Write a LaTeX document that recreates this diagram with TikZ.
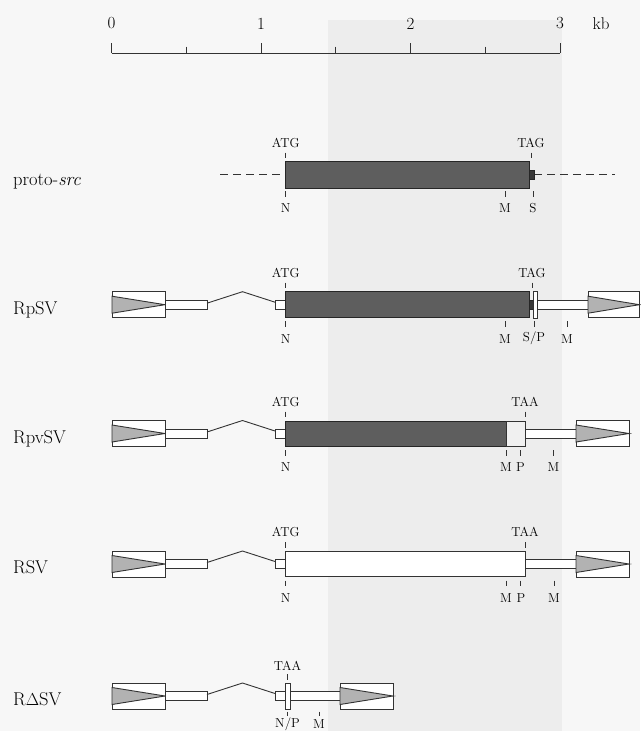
\documentclass[tikz,border=0pt]{standalone}
\begin{document}
\begin{tikzpicture}[x=1pt,y=-1pt,
  lw/.style={line width=0.9pt, draw=black!80},
  ltrbox/.style={lw, fill=white},
  tri/.style={lw, fill=black!30},
  tube/.style={lw, fill=white},
  cds/.style={lw, draw=black!85, fill=black!63},
  openbox/.style={lw, fill=white},
  tickmark/.style={line width=0.8pt, black!80},
  rowlabel/.style={font=\fontsize{18.5}{22}\selectfont, anchor=base west, inner sep=0pt},
  small/.style={font=\fontsize{13}{15}\selectfont, inner sep=0pt},
  scalelab/.style={font=\fontsize{17}{20}\selectfont, inner sep=0pt}]
\useasboundingbox (0,0) rectangle (640,731);
% faint scan background
\fill[black!3] (0,0) rectangle (640,731);
\fill[black!7] (328,20) rectangle (562,731);

\newcommand\LTR[1]{%
  \draw[ltrbox] (#1,-13) rectangle (#1+53,13);
  \draw[tri] (#1,-8.5) -- (#1+53,0) -- (#1,8.5) -- cycle;}
\newcommand\tickup[1]{\draw[tickmark] (#1,-22) -- (#1,-16.5);}
\newcommand\tickdn[1]{\draw[tickmark] (#1,16.5) -- (#1,22);}
\newcommand\leftpart{%
  \LTR{112}
  \draw[tube] (165,-4.5) rectangle (207,4.5);
  \draw[lw] (207,-1.5) -- (242.5,-13) -- (275,-2.5);
  \draw[tube] (275,-4.5) rectangle (285.7,4.5);}

% scale bar
\draw[tickmark, line width=0.9pt] (111.5,53) -- (560,53);
\foreach \k in {0,1,2,3}{
  \draw[tickmark, line width=0.9pt] (111.5+149.5*\k,43) -- (111.5+149.5*\k,53);}
\foreach \k in {0.5,1.5,2.5}{
  \draw[tickmark, line width=0.9pt] (111.5+149.5*\k,46.5) -- (111.5+149.5*\k,53);}
\node[scalelab] (s0) at (111.5,23.5) {0};
\node[scalelab] (s1) at (261,23.5) {1};
\node[scalelab] (s2) at (410.5,23.5) {2};
\node[scalelab] (s3) at (560,23.5) {3};
\node[scalelab] (kb) at (601,23.5) {kb};

% proto-src
\begin{scope}[shift={(0,174.5)}]
  \node[rowlabel] (lproto) at (13,10.5) {proto-\textit{src}};
  \draw[lw, dashed, dash pattern=on 8pt off 5pt] (220,0) -- (285.7,0);
  \draw[lw, dashed, dash pattern=on 8pt off 5pt] (534,0) -- (615,0);
  \draw[cds] (285.7,-13.5) rectangle (529,13.5);
  \draw[cds, fill=black!78] (529,-4.5) rectangle (534,4.5);
  \tickup{285.7} \tickup{531}
  \tickdn{285.7} \tickdn{505} \tickdn{533}
  \node[small] (p-atg) at (285.7,-32) {ATG};
  \node[small] (p-tag) at (531,-32) {TAG};
  \node[small] (p-n) at (285.7,34) {N};
  \node[small] (p-m) at (505,34) {M};
  \node[small] (p-s) at (533,34) {S};
\end{scope}

% RpSV
\begin{scope}[shift={(0,304.7)}]
  \node[rowlabel] (lrpsv) at (13,9.5) {RpSV};
  \leftpart
  \draw[cds] (285.7,-13) rectangle (529,13);
  \draw[cds, fill=black!78] (529,-4.5) rectangle (533,4.5);
  \draw[tube] (537.5,-4.5) rectangle (588,4.5);
  \draw[tube] (533,-13.5) rectangle (537.5,13.5);
  \draw[ltrbox] (588,-13) rectangle (639.3,13);
  \draw[tri] (588,-8.5) -- (639.3,0) -- (588,8.5) -- cycle;
  \tickup{285.7} \tickup{532}
  \tickdn{285.7} \tickdn{505} \tickdn{534} \tickdn{567}
  \node[small] (a-atg) at (285.7,-32) {ATG};
  \node[small] (a-tag) at (532,-32) {TAG};
  \node[small] (a-n) at (285.7,34) {N};
  \node[small] (a-m) at (505,34) {M};
  \node[small] (a-sp) at (534,34) {S/P};
  \node[small] (a-m2) at (567,34) {M};
\end{scope}

% RpvSV
\begin{scope}[shift={(0,433.5)}]
  \node[rowlabel] (lrpvsv) at (13,9.5) {RpvSV};
  \leftpart
  \draw[cds] (285.7,-12.5) rectangle (506.7,12.5);
  \draw[openbox, fill=black!6] (506.7,-12.5) rectangle (525,12.5);
  \draw[tube] (525,-4.5) rectangle (576,4.5);
  \LTR{576}
  \tickup{285.7} \tickup{525}
  \tickdn{285.7} \tickdn{506} \tickdn{520} \tickdn{553.5}
  \node[small] (b-atg) at (285.7,-32) {ATG};
  \node[small] (b-taa) at (525,-32) {TAA};
  \node[small] (b-n) at (285.7,34) {N};
  \node[small] (b-m) at (506,34) {M};
  \node[small] (b-p) at (520.5,34) {P};
  \node[small] (b-m2) at (553.5,34) {M};
\end{scope}

% RSV
\begin{scope}[shift={(0,564)}]
  \node[rowlabel] (lrsv) at (13,9.5) {RSV};
  \leftpart
  \draw[openbox] (285.7,-12.5) rectangle (525,12.5);
  \draw[tube] (525,-4.5) rectangle (576,4.5);
  \LTR{576}
  \tickup{285.7} \tickup{525}
  \tickdn{285.7} \tickdn{506} \tickdn{520.5} \tickdn{554}
  \node[small] (c-atg) at (285.7,-32) {ATG};
  \node[small] (c-taa) at (525,-32) {TAA};
  \node[small] (c-n) at (285.7,34) {N};
  \node[small] (c-m) at (506,34) {M};
  \node[small] (c-p) at (521,34) {P};
  \node[small] (c-m2) at (554,34) {M};
\end{scope}

% RDeltaSV
\begin{scope}[shift={(0,696)}]
  \node[rowlabel] (lrdsv) at (13,9.5) {R$\Delta$SV};
  \leftpart
  \draw[tube] (290,-4.5) rectangle (340,4.5);
  \draw[tube] (285,-13) rectangle (290,13);
  \LTR{340}
  \tickup{287.5}
  \draw[tickmark] (287.5,15.5) -- (287.5,19.5);
  \draw[tickmark] (319,15.5) -- (319,19.5);
  \node[small] (d-taa) at (287.5,-30) {TAA};
  \node[small] (d-np) at (287.5,28.5) {N/P};
  \node[small] (d-m) at (319,28.5) {M};
\end{scope}
\end{tikzpicture}
\end{document}
